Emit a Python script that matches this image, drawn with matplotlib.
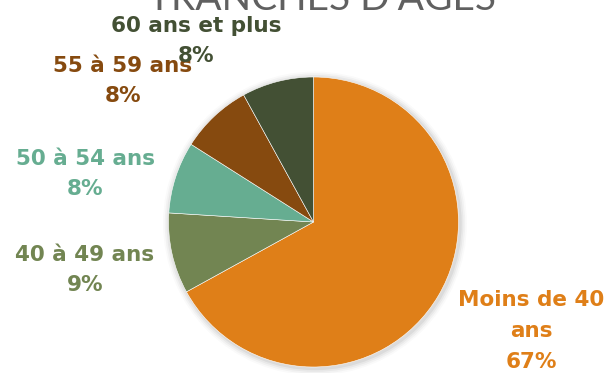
import matplotlib
matplotlib.use("Agg")
import matplotlib.pyplot as plt
from matplotlib.patches import Circle

# Age-band shares (percent)
categories = ["Moins de 40\nans", "40 à 49 ans", "50 à 54 ans", "55 à 59 ans", "60 ans et plus"]
shares = [67, 9, 8, 8, 8]
colors = ["#DF7F18", "#728552", "#66AD91", "#864A0F", "#435034"]
title = "TRANCHES D'AGES"

W, H = 614, 373
fig = plt.figure(figsize=(W / 100, H / 100), dpi=100)

# pie centre and radius in pixels (origin top-left)
cx, cy, R = 313.5, 222.0, 145.0
ax = fig.add_axes([0, 0, 1, 1])

def px(x, y):
    return (x - cx) / R, (cy - y) / R

# soft shadow behind the pie
for i, a in enumerate([0.05, 0.04, 0.03, 0.02]):
    ax.add_patch(Circle((0.01, -0.01), 1.0 + 0.012 * (i + 1), color="black",
                        alpha=a, lw=0, zorder=0))

ax.pie(shares, colors=colors, startangle=90, counterclock=False, radius=1.0,
       center=(0, 0), frame=True,
       wedgeprops=dict(edgecolor="white", linewidth=0.4, zorder=1))
ax.set_xlim(-cx / R, (W - cx) / R)
ax.set_ylim((cy - H) / R, cy / R)
ax.axis("off")

font = "DejaVu Sans"
fs = 15.5

# label positions (pixel centres of each text block)
label_pos = [(531, 331), (85, 270), (85, 174), (123, 81), (196, 41)]
for name, val, col, (lx, ly) in zip(categories, shares, colors, label_pos):
    x, y = px(lx, ly)
    ax.text(x, y, f"{name}\n{val}%", ha="center", va="center", color=col,
            fontsize=fs, fontweight="bold", family=font, linespacing=1.68,
            zorder=5)

fig.text(322 / W, 1 - 10 / H, title, ha="center", va="baseline",
         fontsize=28, color="#606060", family="Lato")

fig.savefig("out.png", dpi=100)
